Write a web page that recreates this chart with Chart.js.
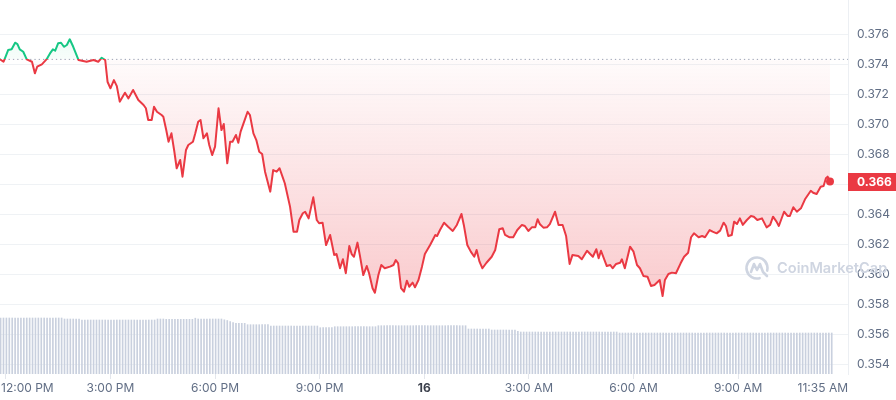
<!DOCTYPE html>
<html>
<head>
<meta charset="utf-8">
<script src="https://cdn.jsdelivr.net/npm/chart.js@4.4.1/dist/chart.umd.min.js"></script>
<style>
html,body{margin:0;padding:0;background:#fff;}
#wrap{width:896px;height:400px;}
</style>
</head>
<body>
<div id="wrap"><canvas id="c" width="896" height="400"></canvas></div>
<script>
// ---- DATA ----
// Time in minutes since 12:00 PM (day 15)
const TIMES = [
-10,-4,0,4,10,16,20,24,30,36,
45,50,54,62,70,76,81,85,90,95,
100,105,110,116,125,139,151,159,165,171,
175,180,186,191,196,205,211,219,228,237,
241,245,251,255,260,268,271,276,280,285,
290,294,300,304,310,314,322,326,331,335,
340,346,350,355,360,366,371,375,381,386,
390,396,400,404,412,416,420,426,431,436,
441,446,455,460,466,471,476,480,489,495,
501,505,511,515,521,529,535,539,545,551,
558,565,569,575,580,585,591,595,599,605,
609,615,621,625,631,635,641,646,652,661,
667,671,675,680,685,690,694,700,704,710,
716,721,730,739,742,747,754,761,769,776,
784,788,794,800,806,810,815,820,827,836,
842,849,855,859,866,873,880,888,893,899,
905,911,915,919,925,931,936,945,951,958,
964,970,975,985,991,1000,1010,1016,1020,1024,
1034,1040,1044,1050,1057,1060,1065,1074,1080,1086,
1091,1097,1104,1110,1116,1125,1130,1134,1140,1146,
1153,1161,1167,1174,1179,1184,1192,1198,1203,1211,
1216,1223,1229,1235,1239,1243,1249,1253,1258,1263,
1268,1275,1282,1287,1293,1301,1309,1315,1320,1326,
1330,1339,1345,1349,1355,1361,1368,1375,1385,1389,
1395,1402,1407,1411,1414,1418
];
const PRICES = [
0.37433,0.37417,0.37455,0.37495,0.37500,0.37544,0.37535,0.37500,0.37484,0.37433,
0.37417,0.37340,0.37384,0.37400,0.37433,0.37473,0.37500,0.37491,0.37540,0.37544,
0.37517,0.37529,0.37567,0.37517,0.37429,0.37417,0.37429,0.37417,0.37444,0.37429,
0.37284,0.37240,0.37295,0.37255,0.37151,0.37211,0.37173,0.37229,0.37162,0.37129,
0.37107,0.37029,0.37029,0.37117,0.37084,0.37062,0.37051,0.36962,0.36884,0.36940,
0.36817,0.36707,0.36762,0.36651,0.36829,0.36862,0.36884,0.36940,0.37017,0.37029,
0.36907,0.36940,0.36862,0.36795,0.36851,0.37107,0.36962,0.37002,0.36740,0.36884,
0.36884,0.36929,0.36877,0.36951,0.37040,0.37084,0.37062,0.36940,0.36895,0.36817,
0.36802,0.36684,0.36551,0.36695,0.36684,0.36707,0.36651,0.36607,0.36451,0.36284,
0.36284,0.36362,0.36407,0.36417,0.36373,0.36513,0.36362,0.36340,0.36344,0.36195,
0.36262,0.36129,0.36135,0.36040,0.36100,0.36007,0.36189,0.36135,0.36117,0.36211,
0.36129,0.35995,0.36055,0.36007,0.35907,0.35877,0.35995,0.36062,0.36040,0.36051,
0.36062,0.36095,0.36073,0.35907,0.35884,0.35957,0.35917,0.35944,0.35913,0.35962,
0.36051,0.36135,0.36195,0.36262,0.36255,0.36295,0.36344,0.36317,0.36289,0.36329,
0.36402,0.36329,0.36195,0.36151,0.36117,0.36162,0.36084,0.36040,0.36077,0.36117,
0.36162,0.36300,0.36307,0.36262,0.36247,0.36247,0.36295,0.36329,0.36322,0.36289,
0.36313,0.36313,0.36367,0.36333,0.36311,0.36313,0.36335,0.36417,0.36329,0.36329,
0.36255,0.36069,0.36129,0.36122,0.36100,0.36157,0.36117,0.36167,0.36107,0.36157,
0.36055,0.36062,0.36040,0.36069,0.36077,0.36100,0.36040,0.36184,0.36151,0.36062,
0.36040,0.35989,0.35984,0.35922,0.35929,0.35962,0.35855,0.35962,0.36002,0.36011,
0.36007,0.36073,0.36117,0.36144,0.36247,0.36273,0.36247,0.36255,0.36247,0.36295,
0.36284,0.36273,0.36291,0.36344,0.36322,0.36255,0.36262,0.36351,0.36335,0.36373,
0.36329,0.36362,0.36389,0.36384,0.36362,0.36373,0.36313,0.36329,0.36384,0.36351,
0.36322,0.36417,0.36389,0.36389,0.36447,0.36417,0.36440,0.36500,0.36557,0.36544,
0.36535,0.36584,0.36589,0.36640,0.36651,0.36618
];
const OPEN_PRICE = 0.37433;

// Volume (millions), one bar per 5 minutes starting at 11:51 AM
const VOL_START = -9;
const VOL_STEP = 5;
const VOLUMES = [
5.6,5.6,5.6,5.6,5.6,5.6,5.6,5.6,5.6,5.6,
5.6,5.6,5.6,5.6,5.6,5.6,5.6,5.6,5.6,5.6,
5.6,5.6,
5.5,5.5,5.5,5.5,5.5,5.5,
5.4,5.4,5.4,5.4,5.4,5.4,5.4,5.4,5.4,5.4,
5.4,5.4,5.4,5.4,5.4,5.4,5.4,5.4,5.4,5.4,
5.4,5.4,5.4,5.4,5.4,5.4,
5.5,5.5,5.5,
5.47,5.47,5.47,5.47,5.47,5.47,5.47,5.47,5.47,5.47,
5.58,
5.5,5.5,5.5,5.5,5.5,5.5,5.5,5.5,5.5,
5.42,5.35,5.25,5.15,
5.07,5.07,5.07,5.07,
4.93,4.93,4.93,4.93,4.93,4.93,4.93,4.93,
4.8,4.8,4.8,4.8,4.8,4.8,4.8,4.8,4.8,4.8,
4.8,4.8,4.8,4.8,4.8,4.8,4.8,
4.63,4.63,4.63,4.63,4.63,
4.73,4.73,4.73,4.73,4.73,4.73,4.73,4.73,4.73,4.73,
4.73,4.73,4.73,4.73,4.73,
4.83,4.83,4.83,4.83,4.83,4.83,4.83,4.83,4.83,4.83,
4.83,4.83,4.83,4.83,4.83,4.83,4.83,4.83,4.83,4.83,
4.83,4.83,4.83,4.83,4.83,4.83,4.83,4.83,4.83,4.83,
4.83,
4.5,4.5,4.5,4.5,4.5,4.5,4.5,4.5,
4.4,4.4,4.4,4.4,4.4,4.4,4.4,4.4,4.4,
4.27,
4.2,4.2,4.2,4.2,4.2,4.2,4.2,4.2,4.2,4.2,
4.2,4.2,4.2,4.2,4.2,4.2,4.2,4.2,4.2,4.2,
4.2,4.2,4.2,4.2,4.2,4.2,4.2,4.2,4.2,4.2,
4.2,4.2,4.2,4.2,
4.1,4.1,4.1,4.1,4.1,4.1,4.1,4.1,4.1,4.1,
4.1,4.1,4.1,4.1,4.1,4.1,4.1,4.1,4.1,4.1,
4.1,4.1,4.1,4.1,4.1,4.1,4.1,4.1,4.1,4.1,
4.1,4.1,4.1,4.1,4.1,4.1,4.1,4.1,4.1,4.1,
4.1,4.1,4.1,4.1,4.1,4.1,4.1,4.1,4.1,4.1,
4.1,4.1,4.1,4.1,4.1,4.1,4.1,4.1,4.1,4.1,
4.1,4.1,4.1,4.1,4.1,4.1,4.1,4.1,4.1,4.1,
4.1,4.1,4.1,4.1
];

const X_TICKS = [0, 180, 360, 540, 720, 900, 1080, 1260, 1415];
const X_TICK_LABELS = ['12:00 PM','3:00 PM','6:00 PM','9:00 PM','16','3:00 AM','6:00 AM','9:00 AM','11:35 AM'];
const Y_TICKS = [0.354,0.356,0.358,0.360,0.362,0.364,0.366,0.368,0.370,0.372,0.374,0.376];

// ---- AXIS RANGES / STYLE ----
const X_MIN = -10, X_MAX = 1449;
const Y_MIN = 0.35335, Y_MAX = 0.37829;
const VOL_AXIS_MAX = 37.4;
const RED = '#ea3943', GREEN = '#16c784';
const FONT = 'Inter';

function baseline(chart){
  const a = chart.chartArea;
  if (!a || !chart.scales.y) return null;
  const y = chart.scales.y.getPixelForValue(OPEN_PRICE);
  const f = Math.min(1, Math.max(0, (y - a.top) / (a.bottom - a.top)));
  return {a, y, f};
}
function strokeGrad(chart){
  const b = baseline(chart);
  if (!b) return RED;
  const g = chart.ctx.createLinearGradient(0, b.a.top, 0, b.a.bottom);
  g.addColorStop(0, GREEN); g.addColorStop(b.f, GREEN);
  g.addColorStop(b.f, RED); g.addColorStop(1, RED);
  return g;
}
function fillGrad(chart){
  const b = baseline(chart);
  if (!b) return 'rgba(234,57,67,0.15)';
  const g = chart.ctx.createLinearGradient(0, b.a.top, 0, b.a.bottom);
  const low = Math.min(1, b.f + 0.65);
  g.addColorStop(0, 'rgba(22,199,132,0.16)');
  g.addColorStop(b.f, 'rgba(22,199,132,0.03)');
  g.addColorStop(b.f, 'rgba(234,57,67,0.02)');
  g.addColorStop(low, 'rgba(234,57,67,0.27)');
  g.addColorStop(1, 'rgba(234,57,67,0.3)');
  return g;
}

const edgeLabels = {
  id: 'edgeLabels',
  beforeDraw(chart){
    const s = chart.scales.x;
    try {
      const items = s.getLabelItems();
      if (!items || !items.length) return;
      const first = items[0], last = items[items.length - 1];
      first.options.textAlign = 'left';
      first.options.translation[0] = chart.chartArea.left + 1;
      last.options.textAlign = 'right';
      last.options.translation[0] = chart.chartArea.right;
    } catch(e) {}
  }
};

const priceTag = {
  id: 'priceTag',
  afterDraw(chart){
    const ctx = chart.ctx, a = chart.chartArea;
    const v = PRICES[PRICES.length - 1];
    const y = chart.scales.y.getPixelForValue(v);
    ctx.save();
    ctx.fillStyle = RED;
    ctx.fillRect(a.right, Math.round(y) - 9, chart.width - a.right, 18);
    ctx.fillStyle = '#ffffff';
    ctx.font = 'bold 12px ' + FONT;
    ctx.textAlign = 'left';
    ctx.textBaseline = 'middle';
    ctx.fillText(v.toFixed(3), a.right + 9, Math.round(y) + 0.5);
    ctx.restore();
  }
};

const watermark = {
  id: 'watermark',
  afterDraw(chart){
    const ctx = chart.ctx;
    const col = '#cfd5e1';
    ctx.save();
    ctx.strokeStyle = col;
    ctx.fillStyle = col;
    ctx.lineWidth = 2.6;
    ctx.lineCap = 'round';
    ctx.lineJoin = 'round';
    const cx = 757, cy = 268, r = 10.5;
    ctx.beginPath();
    ctx.arc(cx, cy, r, Math.PI * 0.42, Math.PI * 2.08, false);
    ctx.stroke();
    ctx.beginPath();
    ctx.moveTo(cx - 6, cy + 4);
    ctx.lineTo(cx - 3, cy - 4);
    ctx.lineTo(cx, cy + 2);
    ctx.lineTo(cx + 3, cy - 4);
    ctx.lineTo(cx + 6, cy + 4);
    ctx.lineTo(cx + 10, cy + 8);
    ctx.stroke();
    let size = 17;
    ctx.font = '600 ' + size + 'px ' + FONT;
    const w = ctx.measureText('CoinMarketCap').width;
    size = size * 110 / w;
    ctx.font = '600 ' + size.toFixed(1) + 'px ' + FONT;
    ctx.textBaseline = 'middle';
    ctx.textAlign = 'left';
    ctx.fillText('CoinMarketCap', 777, 269);
    ctx.restore();
  }
};

const ctx = document.getElementById('c').getContext('2d');
new Chart(ctx, {
  type: 'line',
  data: {
    datasets: [
      {
        type: 'line',
        label: 'Price',
        data: TIMES.map((t, i) => ({x: t, y: PRICES[i]})),
        yAxisID: 'y',
        borderWidth: 2,
        tension: 0,
        borderJoinStyle: 'round',
        borderCapStyle: 'round',
        borderColor: c => strokeGrad(c.chart),
        backgroundColor: c => fillGrad(c.chart),
        fill: {value: OPEN_PRICE},
        pointRadius: c => c.dataIndex === PRICES.length - 1 ? 4 : 0,
        pointBackgroundColor: RED,
        pointBorderWidth: 0,
        pointHoverRadius: 0,
        clip: 6,
        order: 0
      },
      {
        type: 'line',
        label: 'Open',
        data: [{x: X_MIN, y: OPEN_PRICE}, {x: X_MAX, y: OPEN_PRICE}],
        yAxisID: 'y',
        borderColor: '#9aa3b5',
        borderWidth: 1,
        borderDash: [1.3, 3],
        pointRadius: 0,
        fill: false,
        order: 1
      },
      {
        type: 'bar',
        label: 'Volume',
        data: VOLUMES.map((v, i) => ({x: VOL_START + i * VOL_STEP, y: v})),
        yAxisID: 'yVol',
        backgroundColor: '#c9d0de',
        barThickness: 1,
        borderWidth: 0,
        order: 2
      }
    ]
  },
  options: {
    responsive: false,
    devicePixelRatio: 1,
    animation: false,
    events: [],
    layout: {padding: 0, autoPadding: false},
    plugins: {legend: {display: false}, tooltip: {enabled: false}},
    scales: {
      x: {
        type: 'linear',
        min: X_MIN,
        max: X_MAX,
        offset: false,
        afterBuildTicks: s => { s.ticks = X_TICKS.map(v => ({value: v})); },
        afterFit: s => { s.height = 26; s.paddingLeft = 0; s.paddingRight = 0; },
        ticks: {
          autoSkip: false,
          maxRotation: 0,
          minRotation: 0,
          align: 'inner',
          padding: 2,
          color: c => c.index === 4 ? '#3a3f4b' : '#616e85',
          font: c => ({family: FONT, size: 12, weight: c.index === 4 ? 'bold' : 'normal'}),
          callback: (v, i) => X_TICK_LABELS[i]
        },
        grid: {
          offset: false,
          drawOnChartArea: false,
          drawTicks: true,
          tickLength: 5,
          color: c => c.index === X_TICKS.length - 1 ? 'rgba(0,0,0,0)' : '#e3e6ec'
        },
        border: {display: false}
      },
      y: {
        position: 'right',
        min: Y_MIN,
        max: Y_MAX,
        afterBuildTicks: s => { s.ticks = Y_TICKS.map(v => ({value: v})); },
        afterFit: s => { s.width = 48; s.paddingTop = 0; s.paddingBottom = 0; },
        ticks: {
          padding: 9,
          color: '#616e85',
          font: {family: FONT, size: 12},
          callback: v => Number(v).toFixed(3)
        },
        grid: {color: '#eff2f5', drawTicks: false},
        border: {display: true, color: '#eceff3'}
      },
      yVol: {
        display: false,
        min: 0,
        max: VOL_AXIS_MAX
      }
    }
  },
  plugins: [edgeLabels, watermark, priceTag]
});
</script>
</body>
</html>
